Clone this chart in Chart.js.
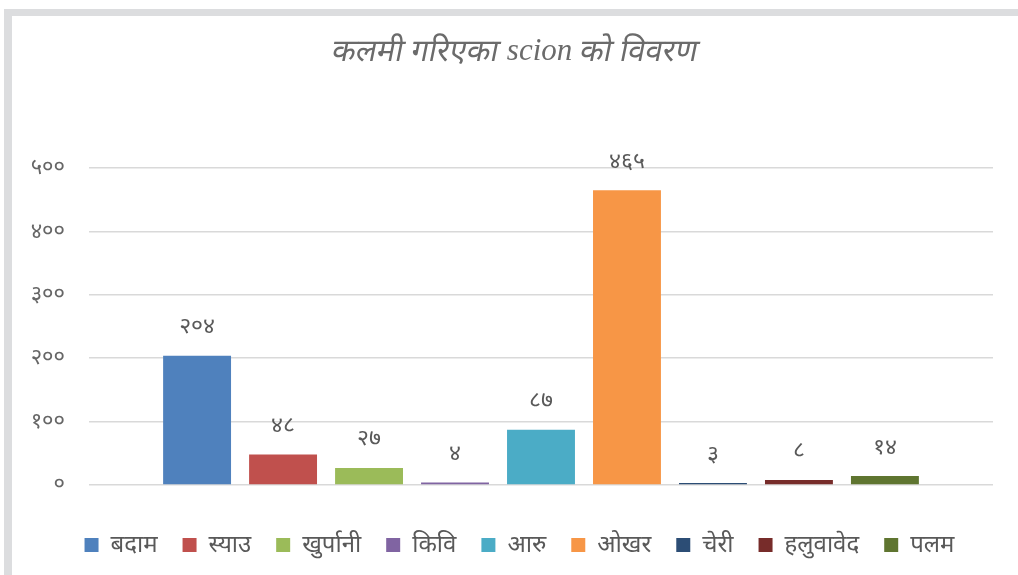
<!DOCTYPE html>
<html>
<head>
<meta charset="utf-8">
<script src="https://cdn.jsdelivr.net/npm/chart.js@4.4.1/dist/chart.umd.min.js"></script>
<style>
  html, body { margin: 0; padding: 0; background: #fff; }
  #wrap { position: relative; width: 1018px; height: 575px; overflow: hidden; }
  #frameTop { position: absolute; left: 4px; top: 9px; width: 1014px; height: 7px; background: #dcdddf; }
  #frameLeft { position: absolute; left: 4px; top: 9px; width: 8px; height: 566px; background: #dcdddf; }
  canvas { position: absolute; left: 0; top: 0; }
</style>
</head>
<body>
<div id="wrap">
  <div id="frameTop"></div>
  <div id="frameLeft"></div>
  <canvas id="chart" width="1018" height="575"></canvas>
</div>
<script>
"use strict";

const categories = ["बदाम", "स्याउ", "खुर्पानी", "किवि", "आरु", "ओखर", "चेरी", "हलुवावेद", "पलम"];
const values = [204, 48, 27, 4, 87, 465, 3, 8, 14];
const colors = ["#4f81bd", "#c0504d", "#9bbb59", "#8064a2", "#4bacc6", "#f79646", "#2c4d75", "#772c2a", "#5f7530"];
const yTicks = [0, 100, 200, 300, 400, 500];
// title split so the latin word keeps a real italic face
const titleParts = ["कलमी गरिएका ", "scion", " को विवरण"];

const textGrey = "#595959";
const devDigits = ["०", "१", "२", "३", "४", "५", "६", "७", "८", "९"];

function toDev(n) {
  return String(n).replace(/[0-9]/g, d => devDigits[+d]);
}

const datasets = categories.map((name, i) => ({
  label: name,
  data: [values[i]],
  backgroundColor: colors[i],
  borderWidth: 0
}));

const barLabels = {
  id: "barLabels",
  afterDatasetsDraw(chart) {
    const ctx = chart.ctx;
    ctx.save();
    ctx.font = "23px 'Noto Sans', sans-serif";
    ctx.fillStyle = textGrey;
    ctx.textAlign = "center";
    ctx.textBaseline = "middle";
    chart.data.datasets.forEach((ds, i) => {
      const bar = chart.getDatasetMeta(i).data[0];
      ctx.fillText(toDev(ds.data[0]), bar.x, bar.y - 29);
    });
    ctx.restore();
  }
};

// devanagari fallback font has no italic, so slant it by hand
const slantTitle = {
  id: "slantTitle",
  afterDraw(chart) {
    const ctx = chart.ctx;
    const hindiFont = "31px 'Noto Sans', sans-serif";
    const latinFont = "italic 31px 'Liberation Serif', serif";
    const fonts = [hindiFont, latinFont, hindiFont];
    ctx.save();
    let total = 0;
    const widths = titleParts.map((t, i) => {
      ctx.font = fonts[i];
      const w = ctx.measureText(t).width;
      total += w;
      return w;
    });
    let x = 515 - total / 2;
    const y = 52;
    ctx.fillStyle = "#6b6b6b";
    ctx.textBaseline = "middle";
    ctx.textAlign = "left";
    titleParts.forEach((t, i) => {
      ctx.font = fonts[i];
      ctx.save();
      ctx.translate(x, y);
      if (i !== 1) ctx.transform(1, 0, -0.2, 1, 0, 0);
      ctx.fillText(t, 0, 0);
      ctx.restore();
      x += widths[i];
    });
    ctx.restore();
  }
};

// nudge the legend a bit right, it sits centred on the whole frame in the original
const legendShift = {
  id: "legendShift",
  afterLayout(chart) {
    chart.legend.left += 17;
    chart.legend.right += 17;
  }
};

new Chart(document.getElementById("chart"), {
  type: "bar",
  data: {
    labels: [""],
    datasets: datasets
  },
  plugins: [barLabels, slantTitle, legendShift],
  options: {
    responsive: false,
    animation: false,
    layout: { padding: { left: 12, right: 25, top: 168, bottom: 8 } },
    datasets: {
      bar: { categoryPercentage: 0.856, barPercentage: 0.79 }
    },
    scales: {
      x: {
        grid: { display: false },
        border: { display: false },
        ticks: { display: false },
        afterFit(scale) { scale.height = 23; }
      },
      y: {
        min: 0,
        max: 500,
        afterBuildTicks(scale) { scale.ticks = yTicks.map(v => ({ value: v })); },
        afterFit(scale) { scale.width = 77; },
        grid: { color: "#d9d9d9", lineWidth: 1.5, drawTicks: false },
        border: { display: false },
        ticks: {
          padding: 24,
          color: "#666666",
          font: { family: "'Noto Sans', sans-serif", size: 22 },
          callback: v => toDev(v)
        }
      }
    },
    plugins: {
      title: { display: false },
      legend: {
        position: "bottom",
        labels: {
          boxWidth: 14,
          boxHeight: 14,
          padding: 25,
          color: textGrey,
          font: { family: "'Noto Sans', sans-serif", size: 24 }
        }
      },
      tooltip: { enabled: false }
    }
  }
});
</script>
</body>
</html>
